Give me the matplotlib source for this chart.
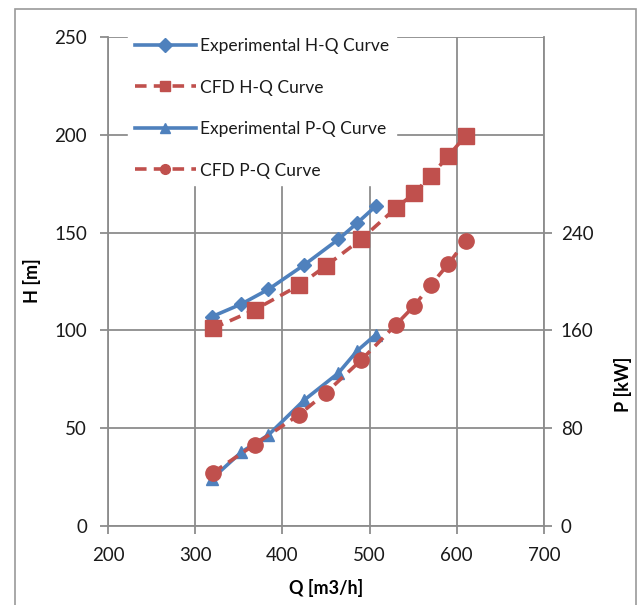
import matplotlib.pyplot as plt
from matplotlib.patches import Rectangle

plt.rcParams['font.family'] = ['Lato', 'DejaVu Sans']

# Experimental data
q_exp = [319, 353, 384, 425, 464, 486, 507]
h_exp = [107, 113.5, 121, 133.5, 146.5, 155, 163.5]
p_exp = [38.5, 60.5, 74.5, 103, 125, 143.5, 156.5]

# CFD data
q_cfd = [320, 368, 419, 450, 490, 530, 551, 570, 590, 610]
h_cfd = [101, 110.5, 123, 133, 146.5, 162.5, 170, 179, 189, 199.5]
p_cfd = [43.5, 66.5, 91, 109, 135.5, 164.5, 180, 197, 214, 233]

blue = '#4F81BD'
red = '#C0504D'
grid_c = '#8C8C8C'
dash = (0, (3.2, 2.0))

fig = plt.figure(figsize=(6.43, 6.05), dpi=100)
ax = fig.add_axes([0.168, 0.1306, 0.678, 0.8082])
ax2 = ax.twinx()

l1, = ax.plot(q_exp, h_exp, color=blue, lw=2.6, marker='D', ms=7.5,
              label='Experimental H-Q Curve')
l2, = ax.plot(q_cfd, h_cfd, color=red, lw=2.6, ls=dash, marker='s',
              ms=11.5, label='CFD H-Q Curve')
l3, = ax2.plot(q_exp, p_exp, color=blue, lw=2.6, marker='^', ms=9,
               label='Experimental P-Q Curve')
l4, = ax2.plot(q_cfd, p_cfd, color=red, lw=2.6, ls=dash, marker='o',
               ms=11, label='CFD P-Q Curve')

ax.set_xlim(200, 700)
ax.set_ylim(0, 250)
ax.set_xticks(range(200, 701, 100))
ax.set_yticks(range(0, 251, 50))
ax2.set_ylim(0, 400)
ax2.set_yticks([0, 80, 160, 240])

ax.grid(True, color=grid_c, lw=1.3)
ax.set_axisbelow(True)
for a in (ax, ax2):
    for s in a.spines.values():
        s.set_color(grid_c)
        s.set_linewidth(1.3)
    a.spines['top'].set_visible(False)
ax.spines['right'].set_visible(False)
ax2.spines['left'].set_visible(False)
ax2.spines['bottom'].set_visible(False)

ax.tick_params(axis='both', colors=grid_c, labelcolor='#1a1a1a', labelsize=13.5,
               length=6, width=1.3)
ax.tick_params(axis='x', pad=9)
ax.tick_params(axis='y', pad=9)
ax2.tick_params(axis='y', colors=grid_c, labelcolor='#1a1a1a', labelsize=13.5,
                length=6, width=1.3, pad=6)

ax.set_xlabel('Q [m3/h]', fontsize=13, fontweight='bold')
ax.set_ylabel('H [m]', fontsize=13, fontweight='bold')
ax2.set_ylabel('P [kW]', fontsize=13, fontweight='bold')
ax.xaxis.set_label_coords(0.5, -0.108)
ax.yaxis.set_label_coords(-0.154, 0.502)
ax2.yaxis.set_label_coords(1.161, 0.29)

leg = ax2.legend(handles=[l1, l2, l3, l4], loc='upper left',
                 bbox_to_anchor=(0.025, 1.03), frameon=True, fancybox=False,
                 edgecolor='white', facecolor='white', framealpha=1,
                 fontsize=12.5, handlelength=3.55, handletextpad=0.22,
                 labelspacing=1.47, numpoints=1, borderpad=0.4)
for text in leg.get_texts():
    text.set_color('#1a1a1a')
for h in leg.legend_handles:
    h.set_markersize(7)

fig.patches.append(Rectangle((15 / 643, -0.02), 621 / 643, 1.0 - 9 / 605 + 0.02,
                             transform=fig.transFigure, fill=False,
                             edgecolor='#9A9A9A', lw=1.2))

fig.savefig('out.png', dpi=100)
